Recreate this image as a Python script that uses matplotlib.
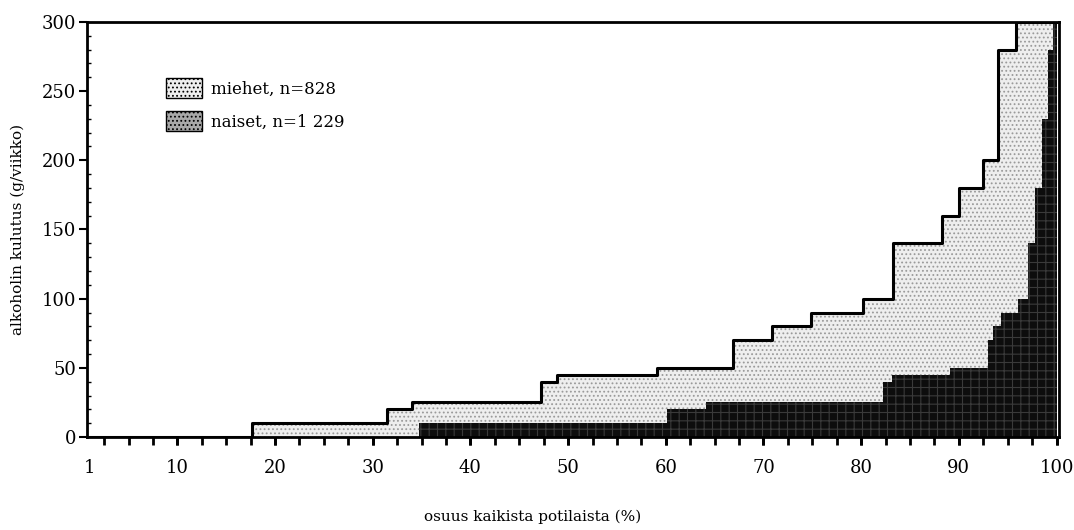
import numpy as np
import matplotlib
matplotlib.use('Agg')
import matplotlib.pyplot as plt
from matplotlib.patches import Patch

plt.rcParams['font.family'] = 'DejaVu Serif'
plt.rcParams['hatch.linewidth'] = 0.8

# miehet (men): step curve, x = osuus potilaista (%), y = g/viikko
men_x = [1, 17.6, 31.5, 34.0, 47.2, 48.9, 59.1, 66.9, 70.9, 74.9, 80.2, 83.3,
         88.3, 90.0, 92.5, 94.0, 95.8, 100]
men_y = [0, 10, 20, 25, 40, 45, 50, 70, 80, 90, 100, 140,
         160, 180, 200, 280, 300, 300]

# naiset (women)
women_x = [34.7, 60.1, 64.1, 82.2, 83.2, 89.1, 93.0, 93.5, 94.3, 96.1, 97.1,
           97.8, 98.5, 99.1, 99.6, 100]
women_y = [10, 20, 25, 40, 45, 50, 70, 80, 90, 100, 140,
           180, 230, 280, 300, 300]

x_labels = [1, 10, 20, 30, 40, 50, 60, 70, 80, 90, 100]
y_labels = [0, 50, 100, 150, 200, 250, 300]

fig = plt.figure(figsize=(10.74, 5.30), dpi=100)
ax = fig.add_axes([87/1074, 93/530, 972/1074, 415/530])

ax.fill_between(men_x, 0, men_y, step='post', facecolor='#eeeeee',
                edgecolor='#9a9a9a', hatch='....', linewidth=0, zorder=2)
ax.fill_between(women_x, 0, women_y, step='post', facecolor='#0d0d0d',
                edgecolor='#3a3a3a', hatch='++', linewidth=0, zorder=3)
ax.step(men_x, men_y, where='post', color='black', lw=2.2, zorder=4)

ax.set_xlim(0.75, 100.25)
ax.set_ylim(0, 300)

ax.set_xticks(x_labels)
ax.set_xticks(np.arange(2.5, 100.1, 2.5), minor=True)
ax.xaxis.remove_overlapping_locs = False
ax.set_yticks(y_labels)
ax.set_yticks(np.arange(0, 301, 10), minor=True)

ax.tick_params(axis='x', which='both', direction='out', length=6, width=2,
               labelsize=13, pad=10)
ax.tick_params(axis='y', which='major', direction='out', length=6, width=1.5,
               labelsize=13, pad=2)
ax.tick_params(axis='y', which='minor', direction='in', length=3, width=1)
ax.xaxis.get_major_ticks()[0].tick1line.set_visible(False)

for s in ax.spines.values():
    s.set_linewidth(2)
    s.set_zorder(5)

ax.set_xlabel('osuus kaikista potilaista (%)', fontsize=11)
ax.xaxis.set_label_coords((533 - 87) / 972, -0.175)
ax.set_ylabel('alkoholin kulutus (g/viikko)', fontsize=11)
ax.yaxis.set_label_coords(-0.064, 0.5)

handles = [
    Patch(facecolor='#eeeeee', edgecolor='black', hatch='....', label='miehet, n=828'),
    Patch(facecolor='#a8a8a8', edgecolor='black', hatch='....', label='naiset, n=1 229'),
]
ax.legend(handles=handles, loc='upper left', bbox_to_anchor=(0.081, 0.865),
          frameon=False, fontsize=12, handlelength=2.2, handleheight=1.5,
          labelspacing=0.75, borderpad=0, borderaxespad=0, handletextpad=0.5)

fig.savefig('out.png', dpi=100)
